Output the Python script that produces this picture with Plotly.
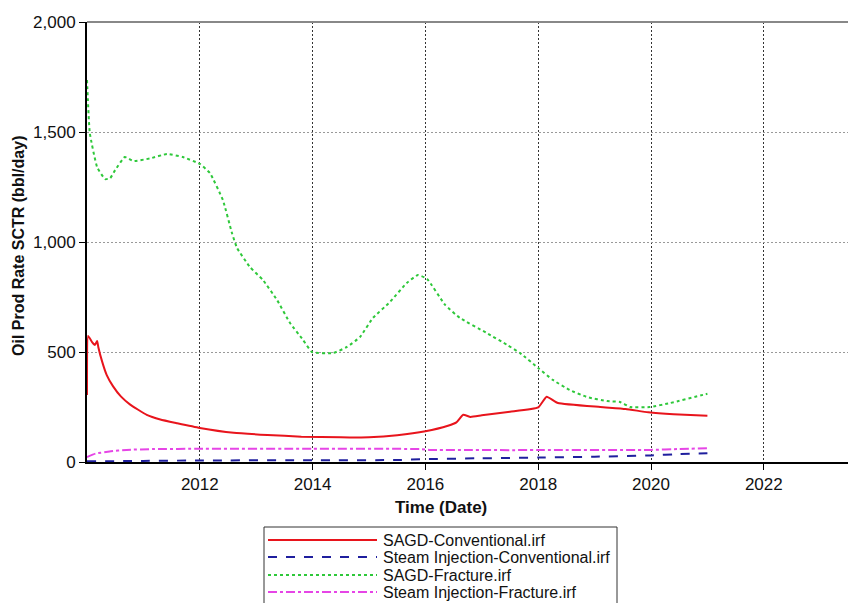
import plotly.graph_objects as go

# Oil production rate per scenario, time in decimal years
sagd_conv_t = [2010.00, 2010.02, 2010.09, 2010.14, 2010.18, 2010.20, 2010.27, 2010.35,
               2010.46, 2010.60, 2010.76, 2011.06, 2011.30, 2011.60, 2012.00, 2012.60,
               2013.20, 2013.80, 2014.50, 2015.00, 2015.50, 2016.00, 2016.40, 2016.55,
               2016.67, 2016.80, 2017.00, 2017.50, 2018.00, 2018.15, 2018.35, 2019.10,
               2019.55, 2019.95, 2020.40, 2021.00]
sagd_conv_q = [305, 573, 545, 532, 550, 523, 455, 395,
               345, 298, 262, 214, 193, 176, 155, 133,
               123, 115, 112, 113, 122, 140, 165, 180,
               215, 205, 212, 228, 248, 297, 268, 250,
               241, 226, 217, 210]

steam_conv_t = [2010.0, 2011.0, 2012.0, 2014.0, 2015.5, 2016.0, 2017.0, 2018.0,
                2019.0, 2020.0, 2020.5, 2021.0]
steam_conv_q = [3, 5, 7, 8, 9, 13, 17, 20, 24, 30, 36, 40]

sagd_frac_t = [2010.00, 2010.05, 2010.18, 2010.32, 2010.41, 2010.50, 2010.67, 2010.82,
               2011.12, 2011.42, 2011.70, 2012.00, 2012.18, 2012.41, 2012.57, 2012.66,
               2012.89, 2013.12, 2013.37, 2013.60, 2013.83, 2013.99, 2014.36, 2014.61,
               2014.84, 2015.07, 2015.37, 2015.67, 2015.87, 2016.03, 2016.35, 2016.61,
               2017.09, 2017.45, 2017.68, 2018.00, 2018.26, 2018.56, 2018.87, 2019.22,
               2019.45, 2019.63, 2019.98, 2020.34, 2020.92, 2021.00]
sagd_frac_q = [1736, 1495, 1340, 1286, 1290, 1327, 1386, 1368,
               1380, 1400, 1386, 1355, 1313, 1190, 1041, 973,
               886, 827, 736, 632, 555, 500, 495, 523,
               568, 655, 727, 814, 850, 832, 714, 655,
               586, 532, 495, 427, 373, 327, 295, 277,
               273, 250, 250, 268, 305, 310]

steam_frac_t = [2010.0, 2010.15, 2010.4, 2010.7, 2011.2, 2012.0, 2014.0, 2015.9,
                2016.1, 2018.0, 2020.0, 2020.5, 2021.0]
steam_frac_q = [22, 38, 48, 55, 59, 60, 60, 59, 55, 54, 55, 59, 63]

series_names = ["SAGD-Conventional.irf", "Steam Injection-Conventional.irf",
                "SAGD-Fracture.irf", "Steam Injection-Fracture.irf"]
series_colors = ["#e8141c", "#1f1f9e", "#2ec83a", "#e645e6"]
series_dash = ["solid", "dash", "dot", "dashdot"]
series_data = [(sagd_conv_t, sagd_conv_q), (steam_conv_t, steam_conv_q),
               (sagd_frac_t, sagd_frac_q), (steam_frac_t, steam_frac_q)]

year_ticks = [2012, 2014, 2016, 2018, 2020, 2022]
rate_ticks = [0, 500, 1000, 1500, 2000]

W, H = 848, 603
L, R, T, B = 87, 0, 22, 141
PW, PH = W - L - R, H - T - B

def px_x(px):
    return (px - L) / PW

def px_y(py):
    return (H - B - py) / PH

fig = go.Figure()
for name, color, dash, (t, q) in zip(series_names, series_colors, series_dash, series_data):
    fig.add_trace(go.Scatter(x=t, y=q, mode="lines", name=name,
                             line=dict(color=color, width=2, dash=dash,
                                       shape="spline", smoothing=0.4),
                             showlegend=False))

font_family = "Liberation Sans, Arial, sans-serif"

fig.update_xaxes(range=[2010, 2010 + PW / 56.4], tickvals=year_ticks,
                 ticktext=[str(y) for y in year_ticks],
                 showline=True, linecolor="black", linewidth=2,
                 ticks="outside", ticklen=6, tickcolor="black", tickwidth=1,
                 showgrid=True, gridcolor="#333333", gridwidth=1, griddash="2px,2px",
                 zeroline=False, tickfont=dict(size=17, color="#111"))
fig.update_yaxes(range=[0, 2000], tickvals=rate_ticks,
                 ticktext=[f"{v:,}" for v in rate_ticks],
                 showline=True, linecolor="black", linewidth=2,
                 ticks="outside", ticklen=6, tickcolor="black", tickwidth=1,
                 showgrid=True, gridcolor="#999999", gridwidth=1, griddash="2px,2px",
                 zeroline=False, tickfont=dict(size=17, color="#111"))

shapes = [
    # top frame line
    dict(type="line", xref="paper", yref="paper", x0=0, x1=1, y0=1, y1=1,
         line=dict(color="#888888", width=2)),
    # legend box
    dict(type="rect", xref="paper", yref="paper",
         x0=px_x(264), x1=px_x(617), y0=px_y(527), y1=px_y(610),
         line=dict(color="#333333", width=1), fillcolor="white"),
]
annotations = [
    dict(text="<b>Time (Date)</b>", xref="paper", yref="paper",
         x=px_x(441), y=px_y(507), showarrow=False, xanchor="center", yanchor="middle",
         font=dict(size=17, color="#111")),
    dict(text="<b>Oil Prod Rate SCTR (bbl/day)</b>", xref="paper", yref="paper",
         x=px_x(19), y=px_y(246), showarrow=False, textangle=-90,
         xanchor="center", yanchor="middle", font=dict(size=16, color="#111")),
]
legend_rows = [540, 557, 575, 592]
for name, color, dash, ry in zip(series_names, series_colors, series_dash, legend_rows):
    shapes.append(dict(type="line", xref="paper", yref="paper",
                       x0=px_x(268), x1=px_x(377), y0=px_y(ry), y1=px_y(ry),
                       line=dict(color=color, width=2, dash=dash)))
    annotations.append(dict(text=name, xref="paper", yref="paper",
                            x=px_x(381), y=px_y(ry), showarrow=False,
                            xanchor="left", yanchor="middle",
                            font=dict(size=16, color="#111")))

fig.update_layout(width=W, height=H, margin=dict(l=L, r=R, t=T, b=B),
                  paper_bgcolor="white", plot_bgcolor="white",
                  font=dict(family=font_family, color="#111"),
                  shapes=shapes, annotations=annotations, showlegend=False)

fig.write_html("out.html")
